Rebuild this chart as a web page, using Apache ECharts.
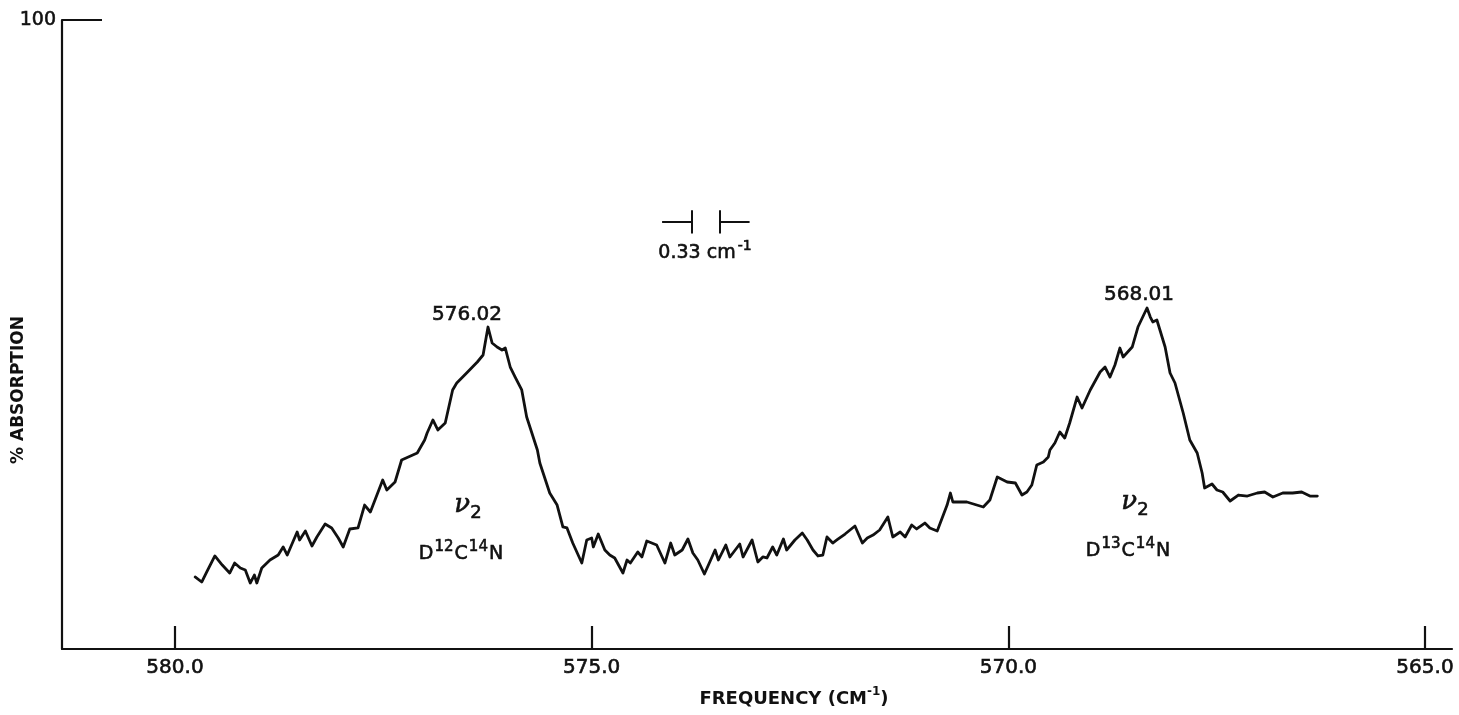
<!DOCTYPE html>
<html>
<head>
<meta charset="utf-8">
<script src="https://cdn.jsdelivr.net/npm/echarts@6/dist/echarts.min.js"></script>
<style>
  html, body { margin: 0; padding: 0; background: #fff; }
  #chart { width: 1459px; height: 715px; }
</style>
</head>
<body>
<div id="chart"></div>
<script>
// nu2 band of DCN: absorption trace, frequency (cm-1) on the trace's own calibration
const frequency = [
  579.58, 579.50, 579.44, 579.34, 579.25, 579.16, 579.10, 579.03, 578.97, 578.91,
  578.86, 578.83, 578.77, 578.67, 578.57, 578.51, 578.46, 578.34, 578.31, 578.24,
  578.16, 578.10, 578.00, 577.92, 577.84, 577.78, 577.70, 577.60, 577.52, 577.45,
  577.30, 577.25, 577.15, 577.07, 576.88, 576.79, 576.76, 576.69, 576.63, 576.54,
  576.45, 576.40, 576.28, 576.15, 576.08, 576.02, 575.97, 575.91, 575.85, 575.81,
  575.75, 575.69, 575.61, 575.55, 575.42, 575.39, 575.27, 575.18, 575.11, 575.06,
  574.99, 574.88, 574.82, 574.76, 574.74, 574.68, 574.60, 574.54, 574.48, 574.38,
  574.33, 574.29, 574.20, 574.15, 574.09, 573.97, 573.87, 573.80, 573.75, 573.66,
  573.59, 573.53, 573.47, 573.39, 573.33, 573.26, 573.22, 573.13, 573.08, 572.96,
  572.92, 572.81, 572.74, 572.68, 572.63, 572.56, 572.51, 572.43, 572.39, 572.29,
  572.20, 572.14, 572.07, 572.01, 571.95, 571.90, 571.83, 571.78, 571.68, 571.62,
  571.56, 571.47, 571.41, 571.34, 571.26, 571.16, 571.10, 571.01, 570.95, 570.87,
  570.81, 570.71, 570.65, 570.56, 570.50, 570.44, 570.40, 570.37, 570.20, 570.00,
  569.92, 569.83, 569.71, 569.61, 569.53, 569.47, 569.41, 569.35, 569.27, 569.21,
  569.19, 569.13, 569.07, 569.01, 568.95, 568.86, 568.80, 568.70, 568.58, 568.52,
  568.46, 568.40, 568.34, 568.30, 568.19, 568.12, 568.01, 567.97, 567.94, 567.89,
  567.79, 567.73, 567.67, 567.57, 567.49, 567.40, 567.34, 567.31, 567.22, 567.16,
  567.09, 567.00, 566.90, 566.79, 566.67, 566.58, 566.48, 566.36, 566.24, 566.13,
  566.03, 565.94
];
const absorption = [
  11.45, 10.65, 12.24, 14.79, 13.35, 12.08, 13.67, 12.88, 12.56, 10.49,
  11.76, 10.49, 12.88, 14.15, 14.94, 16.22, 14.94, 18.60, 17.33, 18.76,
  16.37, 17.81, 19.87, 19.24, 17.65, 16.22, 19.08, 19.24, 22.89, 21.78,
  26.87, 25.28, 26.55, 30.05, 31.16, 33.23, 34.34, 36.41, 34.82, 35.93,
  41.18, 42.29, 43.88, 45.63, 46.74, 51.19, 48.65, 48.01, 47.54, 47.85,
  44.83, 43.24, 41.18, 36.88, 31.64, 29.57, 24.80, 22.89, 19.40, 19.24,
  16.85, 13.67, 17.33, 17.65, 16.22, 18.28, 15.74, 14.94, 14.47, 12.08,
  14.15, 13.67, 15.42, 14.63, 17.17, 16.53, 13.67, 16.85, 14.94, 15.74,
  17.49, 15.26, 14.15, 11.92, 13.67, 15.74, 14.15, 16.53, 14.63, 16.69,
  14.63, 17.33, 13.83, 14.63, 14.47, 16.22, 14.94, 17.49, 15.74, 17.33,
  18.44, 17.33, 15.74, 14.79, 14.94, 17.81, 16.85, 17.33, 18.28, 18.92,
  19.55, 16.85, 17.65, 18.12, 18.92, 20.99, 17.81, 18.60, 17.81, 19.71,
  19.08, 20.03, 19.24, 18.76, 20.83, 22.89, 24.80, 23.37, 23.37, 22.58,
  23.69, 27.34, 26.55, 26.39, 24.48, 24.96, 26.07, 29.25, 29.73, 30.52,
  31.64, 32.75, 34.50, 33.54, 35.93, 40.06, 38.31, 41.18, 44.04, 44.83,
  43.24, 45.15, 47.85, 46.42, 48.01, 51.19, 54.21, 52.78, 51.99, 52.30,
  48.01, 43.88, 42.29, 37.52, 33.23, 31.16, 27.98, 25.60, 26.23, 25.28,
  24.96, 23.53, 24.48, 24.32, 24.80, 24.96, 24.17, 24.80, 24.80, 24.96,
  24.32, 24.32
];

// band maxima as printed above each peak
const peakFrequencies = [576.02, 568.01];
const peakLabelOffsets = [[-21, -2], [-8, -3]];

// printed frequency scale on the chart paper
const tickFrequencies = [580.0, 575.0, 570.0, 565.0];
const paperRange = [564.676, 581.356];
// trace calibration (fixed by the two measured band maxima)
const traceRange = [564.303, 581.198];

const absorptionTicks = [100];

// spectral slit width marker
const slitCenter = 573.63;
const slitWidth = 0.33;
const slitLevel = 67.9;
const slitHalfHeight = 1.85;
const slitArm = 0.36;

const ink = '#111';
const font = "'DejaVu Sans', 'Liberation Sans', sans-serif";
// lettering on the chart is slightly heavier than a regular face
const heavy = { textBorderColor: ink, textBorderWidth: 0.6 };
// same thickening for free-standing graphic text (zrender style names)
const heavyG = { fill: ink, stroke: ink, lineWidth: 0.6 };

const traceData = frequency.map((f, i) => [f, absorption[i]]);

const peakPoints = peakFrequencies.map((f, k) => {
  const i = frequency.indexOf(f);
  return {
    coord: [f, absorption[i]],
    label: { offset: peakLabelOffsets[k] }
  };
});

const slitLeft = slitCenter + slitWidth / 2;
const slitRight = slitCenter - slitWidth / 2;
const slitLines = [
  [[slitLeft + slitArm, slitLevel], [slitLeft, slitLevel]],
  [[slitLeft, slitLevel + slitHalfHeight], [slitLeft, slitLevel - slitHalfHeight]],
  [[slitRight, slitLevel + slitHalfHeight], [slitRight, slitLevel - slitHalfHeight]],
  [[slitRight, slitLevel], [slitRight - slitArm, slitLevel]]
].map(c => ({ coords: c }));

const chart = echarts.init(document.getElementById('chart'), null, { renderer: 'canvas' });

const bandLabel = (iso1, iso2) =>
  `{b|D}{s|${iso1}}{b|C}{s|${iso2}}{b|N}`;

const bandRich = {
  b: Object.assign({ fontFamily: font, fontSize: 19, lineHeight: 24, verticalAlign: 'bottom' }, heavyG),
  s: Object.assign({ fontFamily: font, fontSize: 15, lineHeight: 24, verticalAlign: 'top', padding: [0, 1, 0, 1] }, heavyG)
};
const nuRich = {
  n: Object.assign({ fontFamily: "'DejaVu Serif', serif", fontStyle: 'italic', fontSize: 26, lineHeight: 30, verticalAlign: 'bottom' }, heavyG),
  i: Object.assign({ fontFamily: font, fontSize: 18, lineHeight: 30, verticalAlign: 'bottom', padding: [0, 0, -4, 0] }, heavyG)
};

chart.setOption({
  animation: false,
  backgroundColor: '#fff',
  grid: { left: 62, right: 7, top: 20, bottom: 66, containLabel: false },
  xAxis: [
    {
      type: 'value',
      inverse: true,
      min: paperRange[0],
      max: paperRange[1],
      position: 'bottom',
      axisLine: { show: true, lineStyle: { color: ink, width: 2.2 } },
      axisTick: { show: true, inside: true, length: 23, customValues: tickFrequencies, lineStyle: { color: ink, width: 2.2 } },
      axisLabel: Object.assign({
        show: true, customValues: tickFrequencies, margin: 9,
        formatter: v => v.toFixed(1),
        fontFamily: font, fontSize: 20, color: ink
      }, heavy),
      splitLine: { show: false }
    },
    {
      type: 'value',
      inverse: true,
      min: traceRange[0],
      max: traceRange[1],
      show: false
    }
  ],
  yAxis: {
    type: 'value',
    min: 0,
    max: 100,
    axisLine: { show: true, lineStyle: { color: ink, width: 2.2 } },
    axisTick: { show: true, inside: true, length: 40, customValues: absorptionTicks, lineStyle: { color: ink, width: 2.2 } },
    axisLabel: Object.assign({
      show: true, customValues: absorptionTicks, margin: 6,
      fontFamily: font, fontSize: 19, color: ink
    }, heavy),
    splitLine: { show: false }
  },
  series: [
    {
      type: 'line',
      xAxisIndex: 1,
      data: traceData,
      showSymbol: false,
      smooth: false,
      lineStyle: { color: ink, width: 2.8, join: 'round', cap: 'round' },
      markPoint: {
        symbol: 'circle',
        symbolSize: 0,
        label: Object.assign({
          show: true,
          position: 'top',
          distance: 0,
          formatter: p => p.data.coord[0].toFixed(2),
          fontFamily: font, fontSize: 20, color: ink
        }, heavy),
        data: peakPoints
      }
    },
    {
      type: 'lines',
      coordinateSystem: 'cartesian2d',
      xAxisIndex: 0,
      polyline: false,
      data: slitLines,
      lineStyle: { color: ink, width: 2, opacity: 1 },
      symbol: 'none'
    }
  ],
  graphic: [
    {
      type: 'text', x: 19, y: 390, rotation: Math.PI / 2,
      style: { text: '% ABSORPTION', font: `bold 17px ${font}`, fill: ink, align: 'center', verticalAlign: 'middle' }
    },
    {
      type: 'text', x: 794, y: 697,
      style: {
        text: '{t|FREQUENCY (CM}{u|-1}{t|)}',
        rich: {
          t: { fontFamily: font, fontWeight: 'bold', fontSize: 18, fill: ink, lineHeight: 22, verticalAlign: 'bottom' },
          u: { fontFamily: font, fontWeight: 'bold', fontSize: 12, fill: ink, lineHeight: 22, verticalAlign: 'top' }
        },
        align: 'center', verticalAlign: 'middle'
      }
    },
    {
      type: 'text', x: 705, y: 251,
      style: {
        text: '{t|0.33 cm}{u|-1}',
        rich: {
          t: Object.assign({ fontFamily: font, fontSize: 19, lineHeight: 24, verticalAlign: 'bottom' }, heavyG),
          u: Object.assign({ fontFamily: font, fontSize: 14, lineHeight: 24, verticalAlign: 'top', padding: [0, 0, 0, 2] }, heavyG)
        },
        align: 'center', verticalAlign: 'middle'
      }
    },
    {
      type: 'text', x: 468, y: 503,
      style: { text: '{n|ν}{i|2}', rich: nuRich, align: 'center', verticalAlign: 'middle' }
    },
    {
      type: 'text', x: 1135, y: 500,
      style: { text: '{n|ν}{i|2}', rich: nuRich, align: 'center', verticalAlign: 'middle' }
    },
    {
      type: 'text', x: 461, y: 552,
      style: { text: bandLabel('12', '14'), rich: bandRich, align: 'center', verticalAlign: 'middle' }
    },
    {
      type: 'text', x: 1128, y: 549,
      style: { text: bandLabel('13', '14'), rich: bandRich, align: 'center', verticalAlign: 'middle' }
    }
  ]
});
</script>
</body>
</html>
